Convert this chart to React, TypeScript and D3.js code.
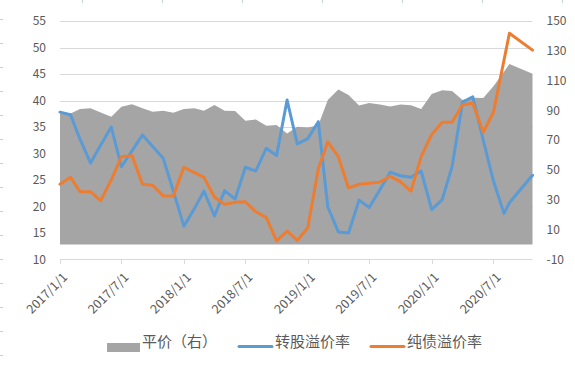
import React from "react";
import * as d3 from "d3";

const dates = [
  "2017-01-01","2017-02-01","2017-03-01","2017-04-01","2017-05-01","2017-06-01",
  "2017-07-01","2017-08-01","2017-09-01","2017-10-01","2017-11-01","2017-12-01",
  "2018-01-01","2018-02-01","2018-03-01","2018-04-01","2018-05-01","2018-06-01",
  "2018-07-01","2018-08-01","2018-09-01","2018-10-01","2018-11-01","2018-12-01",
  "2019-01-01","2019-02-01","2019-03-01","2019-04-01","2019-05-01","2019-06-01",
  "2019-07-01","2019-08-01","2019-09-01","2019-10-01","2019-11-01","2019-12-01",
  "2020-01-01","2020-02-01","2020-03-01","2020-04-01","2020-05-01","2020-06-01",
  "2020-07-01","2020-08-01","2020-08-17","2020-10-24",
];

// 平价（右）
const parity = [
  88.0, 88.0, 90.9, 91.4, 88.7, 85.7, 92.5, 94.1, 91.4, 89.1, 89.8, 88.4,
  90.9, 91.4, 89.8, 93.6, 89.8, 89.6, 83.1, 84.0, 79.7, 80.2, 74.6, 79.0,
  78.6, 80.0, 97.0, 104.1, 100.3, 93.3, 95.0, 94.0, 92.7, 94.0, 93.4, 91.0,
  101.0, 103.5, 103.1, 97.0, 98.5, 98.3, 106.2, 116.0, 121.1, 114.6,
];

// 转股溢价率
const convPremium = [
  37.8, 37.3, 32.7, 28.2, 31.6, 35.0, 27.5, 30.5, 33.5, 31.3, 29.1, 22.9,
  16.3, 19.6, 22.9, 18.2, 23.0, 21.4, 27.4, 26.7, 31.0, 29.6, 40.1, 31.8,
  32.8, 36.0, 19.9, 15.2, 15.0, 21.2, 19.8, 23.1, 26.5, 25.8, 25.5, 26.7,
  19.4, 21.3, 27.5, 39.7, 40.7, 32.5, 24.8, 18.7, 20.7, 25.9,
];

// 纯债溢价率
const bondPremium = [
  24.2, 25.5, 22.8, 22.8, 21.1, 25.0, 29.4, 29.6, 24.2, 24.0, 22.0, 22.0,
  27.4, 26.4, 25.5, 21.8, 20.4, 20.8, 20.9, 19.0, 17.9, 13.5, 15.35, 13.6,
  16.0, 27.1, 32.2, 29.4, 23.5, 24.2, 24.4, 24.6, 25.7, 24.65, 22.9, 29.4,
  33.6, 35.9, 35.9, 39.2, 39.5, 34.0, 37.8, 47.6, 52.7, 49.5,
];

const leftTicks = [10, 15, 20, 25, 30, 35, 40, 45, 50, 55];
const rightTicks = [-10, 10, 30, 50, 70, 90, 110, 130, 150];
const xTickLabels = ["2017/1/1","2017/7/1","2018/1/1","2018/7/1","2019/1/1","2019/7/1","2020/1/1","2020/7/1"];
const seriesNames = ["平价（右）", "转股溢价率", "纯债溢价率"];

const W = 575, H = 368;
const FONT = "'Noto Sans CJK SC', 'Noto Sans', sans-serif";
const TXT = "#595959";
const GRID = "#d9d9d9";
const GRAY = "#a5a5a5", BLUE = "#5b9bd5", ORANGE = "#ed7d31";

export default function App() {
  const parse = d3.utcParse("%Y-%m-%d");
  const ds = dates.map((d) => parse(d) as Date);
  const x = d3.scaleUtc().domain([ds[0], ds[ds.length - 1]]).range([60, 532.5]);
  const yL = d3.scaleLinear().domain([10, 55]).range([259.5, 21]);
  const yR = d3.scaleLinear().domain([-10, 150]).range([259.5, 21]);

  const area = d3.area<number>()
    .x((_, i) => x(ds[i]))
    .y0(yR(0))
    .y1((v) => yR(v));
  const line = d3.line<number>()
    .x((_, i) => x(ds[i]))
    .y((v) => yL(v));

  const tickDates = xTickLabels.map((s) => {
    const [y, m, d] = s.split("/").map(Number);
    return new Date(Date.UTC(y, m - 1, d));
  });

  const [x0, x1] = x.range();

  return (
    <svg width={W} height={H} style={{ position: "absolute", left: 0, top: 0, background: "#fff" }}
      fontFamily={FONT}>
      {/* faint ruler marks */}
      {d3.range(7).map((k) => (
        <line key={"rt" + k} x1={82.5 + 80 * k} x2={82.5 + 80 * k} y1={0} y2={3} stroke="#c9d0e0" strokeWidth={1} />
      ))}
      {d3.range(15).map((k) => (
        <line key={"rl" + k} x1={0} x2={3} y1={19.5 + 24 * k} y2={19.5 + 24 * k} stroke="#c9d0e0" strokeWidth={1} />
      ))}

      {/* gridlines */}
      {leftTicks.slice(1).map((t) => (
        <line key={"g" + t} x1={x0} x2={x1} y1={Math.round(yL(t)) + 0.5} y2={Math.round(yL(t)) + 0.5}
          stroke={GRID} strokeWidth={1} />
      ))}

      {/* area */}
      <path d={area(parity) || ""} fill={GRAY} />

      {/* x axis line + ticks */}
      <line x1={x0} x2={x1} y1={259.5} y2={259.5} stroke={GRID} strokeWidth={1} />
      {tickDates.map((d, i) => (
        <line key={"xt" + i} x1={Math.round(x(d)) + 0.5} x2={Math.round(x(d)) + 0.5} y1={259.5} y2={264}
          stroke={GRID} strokeWidth={1} />
      ))}

      {/* lines */}
      <path d={line(convPremium) || ""} fill="none" stroke={BLUE} strokeWidth={3} strokeLinejoin="round" strokeLinecap="round" />
      <path d={line(bondPremium) || ""} fill="none" stroke={ORANGE} strokeWidth={3} strokeLinejoin="round" strokeLinecap="round" />

      {/* left axis labels */}
      {leftTicks.map((t) => (
        <text key={"l" + t} x={46} y={yL(t)} dy="0.35em" textAnchor="end" fontSize={12} fill={TXT}>{t}</text>
      ))}
      {/* right axis labels */}
      {rightTicks.map((t) => (
        <text key={"r" + t} x={546.5} y={yR(t)} dy="0.35em" textAnchor="start" fontSize={12} fill={TXT}>{t}</text>
      ))}

      {/* x labels */}
      {tickDates.map((d, i) => (
        <text key={"xl" + i} transform={`translate(${x(d) + 5},${275}) rotate(-45)`} textAnchor="end"
          dy="0.35em" fontSize={12.5} fill={TXT}>{xTickLabels[i]}</text>
      ))}

      {/* legend */}
      <rect x={107} y={343} width={33} height={9} fill={GRAY} />
      <text x={142} y={342} dy="0.35em" fontSize={15} fill={TXT}>{seriesNames[0]}</text>
      <line x1={239} x2={272} y1={346.5} y2={346.5} stroke={BLUE} strokeWidth={3} strokeLinecap="round" />
      <text x={275} y={342} dy="0.35em" fontSize={15} fill={TXT}>{seriesNames[1]}</text>
      <line x1={371} x2={404} y1={346.5} y2={346.5} stroke={ORANGE} strokeWidth={3} strokeLinecap="round" />
      <text x={407} y={342} dy="0.35em" fontSize={15} fill={TXT}>{seriesNames[2]}</text>
    </svg>
  );
}
